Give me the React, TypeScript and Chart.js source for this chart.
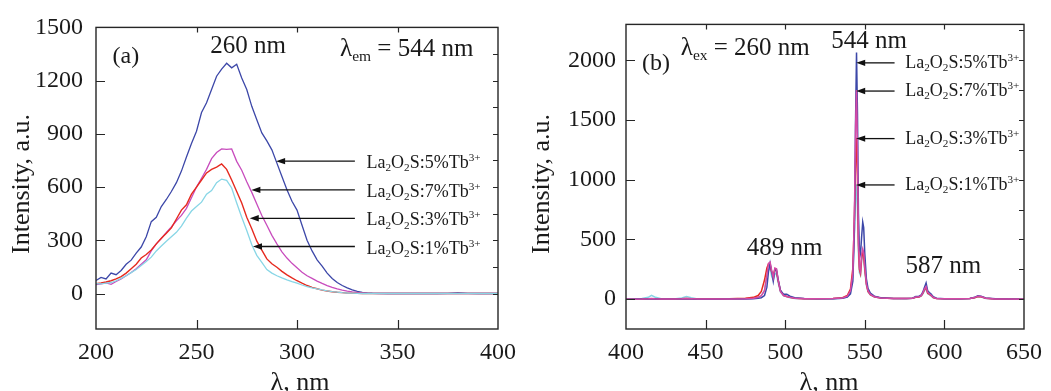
import React, { useEffect, useRef } from "react";
import { Chart, registerables } from "chart.js";

Chart.register(...registerables);

// ---------------- Panel (a): excitation spectra (λem = 544 nm) ----------------
const LAMBDA_A = [
  200, 202.5, 205, 207.5, 210, 212.5, 215, 217.5, 220, 222.5,
  225, 227.5, 230, 232.5, 235, 237.5, 240, 242.5, 245, 247.5,
  250, 252.5, 255, 257.5, 260, 262.5, 265, 267.5, 270, 272.5,
  275, 277.5, 280, 282.5, 285, 287.5, 290, 292.5, 295, 297.5,
  300, 302.5, 305, 307.5, 310, 312.5, 315, 317.5, 320, 322.5,
  325, 327.5, 330, 332.5, 335, 337.5, 340,
  345, 350, 355, 360, 365, 370, 375, 380, 385, 390, 395, 400,
];
const EXC_5 = [
  73, 91, 82, 115, 106, 130, 165, 188, 228, 262,
  320, 405, 430, 490, 530, 575, 625, 690, 770, 845,
  915, 1020, 1075, 1150, 1225, 1265, 1298, 1272, 1292, 1215,
  1150, 1055, 980, 905, 860, 810, 735, 660, 585, 520,
  470, 385, 300, 240, 190, 155, 115, 85, 62, 45,
  32, 20, 12, 7, 4, 2, 1,
  0, 0, 0, 0, 0, 0, 1, 5, 1, 0, 0, 0,
];
const EXC_7 = [
  50, 55, 60, 52, 68, 82, 100, 118, 140, 165,
  190, 240, 280, 310, 345, 375, 410, 440, 480, 540,
  600, 650, 700, 760, 795, 815, 812, 815, 745, 695,
  630, 570, 505, 440, 385, 328, 280, 235, 200, 170,
  145, 120, 100, 85, 70, 57, 45, 35, 26, 19,
  13, 9, 6, 4, 2, 1, 0,
  0, 0, 0, 0, 0, 0, 0, 0, 0, 0, 0, 0,
];
const EXC_3 = [
  56, 60, 65, 72, 82, 95, 115, 140, 165, 200,
  220, 245, 280, 312, 340, 370, 420, 470, 500, 560,
  600, 640, 680, 700, 712, 730, 700, 640, 575, 510,
  430, 365, 295, 245, 195, 168, 148, 125, 105, 88,
  72, 58, 45, 35, 27, 19, 14, 10, 7, 5,
  3, 2, 1, 0, 0, 0, 0,
  0, 0, 0, 0, 0, 0, 0, 0, 0, 0, 0, 0,
];
const EXC_1 = [
  56, 54, 58, 62, 72, 85, 100, 118, 135, 158,
  180, 205, 240, 268, 295, 320, 345, 380, 425, 465,
  490, 515, 560, 580, 625, 645, 638, 595, 510, 430,
  355, 275, 215, 175, 135, 115, 100, 88, 77, 67,
  58, 48, 39, 32, 26, 20, 15, 11, 8, 5,
  3, 2, 1, 0, 0, 0, 0,
  0, 0, 0, 0, 0, 0, 0, 0, 0, 0, 0, 0,
];
const TICKS_AX = [200, 250, 300, 350, 400];
const TICKS_AY = [0, 300, 600, 900, 1200, 1500];
const MINOR_AY = [0, 150, 300, 450, 600, 750, 900, 1050, 1200, 1350, 1500];

// ---------------- Panel (b): emission spectra (λex = 260 nm) ----------------
const LAMBDA_B = [
  400, 410, 414, 416, 418, 422, 430, 435, 438, 441,
  445, 455, 465, 475, 480, 483, 485, 487, 488.5, 489.5,
  490.5, 491.5, 492.5, 493.5, 494.5, 495.5, 497, 499, 501, 503,
  506, 512, 520, 530, 536, 539, 541, 542.5, 543.5, 544.2,
  544.8, 545.4, 546, 546.6, 547.3, 548, 548.7, 549.3, 550, 551,
  552, 553.5, 556, 560, 568, 576, 580, 582, 584, 585.5,
  586.5, 587.5, 588.5, 589.5, 590.5, 591.5, 593, 595, 600, 610,
  616, 619, 621, 623, 626, 632, 640, 650,
];
const EM_5 = [
  0, 1, 2, 3, 2, 1, 1, 1, 2, 1,
  0, 0, 1, 2, 4, 7, 12, 30, 100, 230,
  300, 230, 150, 240, 250, 170, 75, 40, 40, 25,
  12, 5, 3, 4, 8, 18, 45, 150, 600, 1500,
  2065, 1550, 720, 420, 380, 520, 645, 600, 380, 170,
  90, 50, 25, 12, 6, 5, 8, 22, 25, 35,
  60, 100, 136, 70, 55, 45, 20, 8, 4, 3,
  6, 15, 28, 25, 10, 3, 1, 0,
];
const EM_7 = [
  0, 2, 4, 6, 4, 2, 1, 3, 6, 4,
  1, 1, 2, 4, 8, 15, 28, 70, 200, 300,
  310, 240, 180, 260, 255, 165, 65, 30, 22, 15,
  8, 4, 3, 5, 10, 25, 70, 220, 720, 1450,
  1750, 1250, 520, 270, 230, 370, 420, 390, 270, 130,
  70, 40, 20, 10, 5, 5, 8, 18, 20, 30,
  55, 85, 105, 55, 45, 35, 15, 6, 3, 3,
  6, 14, 25, 22, 8, 2, 1, 0,
];
const EM_3 = [
  0, 1, 3, 4, 3, 1, 1, 3, 5, 3,
  1, 1, 3, 8, 15, 30, 65, 160, 260, 295,
  285, 225, 200, 250, 235, 160, 70, 32, 22, 15,
  8, 4, 3, 5, 12, 30, 85, 260, 700, 1150,
  1350, 1000, 450, 250, 215, 340, 395, 360, 250, 125,
  65, 38, 20, 10, 5, 5, 8, 16, 18, 28,
  50, 80, 95, 50, 42, 32, 14, 6, 3, 3,
  5, 12, 22, 20, 7, 2, 1, 0,
];
const EM_1 = [
  0, 5, 15, 32, 18, 4, 2, 10, 22, 12,
  2, 1, 2, 4, 8, 15, 30, 75, 190, 250,
  255, 190, 160, 215, 210, 140, 60, 28, 20, 12,
  6, 3, 2, 4, 8, 20, 60, 200, 550, 850,
  960, 740, 380, 220, 200, 320, 370, 340, 230, 115,
  60, 35, 18, 9, 5, 4, 7, 15, 17, 26,
  45, 70, 85, 45, 38, 28, 12, 5, 3, 2,
  5, 11, 20, 18, 6, 2, 1, 0,
];
const TICKS_BX = [400, 450, 500, 550, 600, 650];
const TICKS_BY = [0, 500, 1000, 1500, 2000];
const MINOR_BY = [0, 250, 500, 750, 1000, 1250, 1500, 1750, 2000, 2250];

// Series labels (Tb3+ concentration, %) in the order of the arrows
const SERIES_PCT = ["5", "7", "3", "1"];
// Where each label's arrow points, panel (a): [λ of tip, intensity level]
const ARROW_A_TIP = [289.6, 277.3, 276.5, 278.1];
const ARROW_A_LEVEL = [746, 584, 424, 265];
// Panel (b)
const ARROW_B_TIP = [544.6, 544.6, 544.6, 544.6];
const ARROW_B_LEVEL = [1978, 1742, 1344, 956];

const FONT = '"Liberation Serif", "Times New Roman", Times, serif';
const C_BLUE = "#3c47a8";
const C_MAGENTA = "#c84cbd";
const C_RED = "#e62a1f";
const C_CYAN = "#88d6e6";
const C_PINK = "#d44aa6";

type Part = { t: string; s?: "sub" | "sup" };

function drawRich(ctx: CanvasRenderingContext2D, parts: Part[], x: number, y: number, size: number) {
  let cx = x;
  for (const p of parts) {
    const fs = p.s ? size * 0.62 : size;
    ctx.font = `${fs}px ${FONT}`;
    const dy = p.s === "sub" ? size * 0.18 : p.s === "sup" ? -size * 0.38 : 0;
    ctx.fillText(p.t, cx, y + dy);
    cx += ctx.measureText(p.t).width;
  }
}

function labelParts(pct: string): Part[] {
  return [
    { t: "La" }, { t: "2", s: "sub" }, { t: "O" }, { t: "2", s: "sub" },
    { t: `S:${pct}%Tb` }, { t: "3+", s: "sup" },
  ];
}

type TextItem = { x: number; y: number; size: number; parts: Part[] };
type Decor = {
  xTicks: number[];
  yTicks: number[];
  yMinor: number[];
  yTitleX: number;
  yTitleY: number;
  xTitleX: number;
  xTitleY: number;
  texts: TextItem[];
  arrowTips: number[];
  arrowLevels: number[];
  arrowTail: number;
  labelX: number;
  labelDy: number;
  labelSize: number;
};

function makeDecor(d: Decor) {
  return {
    id: "decor",
    afterDraw(chart: any) {
      const { ctx, chartArea: a, scales } = chart;
      const xs = scales.x;
      const ys = scales.y;
      ctx.save();
      // frame
      ctx.strokeStyle = "#262626";
      ctx.lineWidth = 1.4;
      ctx.strokeRect(a.left, a.top, a.right - a.left, a.bottom - a.top);
      // inward ticks
      ctx.beginPath();
      ctx.lineWidth = 1.2;
      for (const v of d.xTicks) {
        const px = Math.round(xs.getPixelForValue(v)) + 0.5;
        if (px <= a.left + 2 || px >= a.right - 2) continue;
        ctx.moveTo(px, a.bottom);
        ctx.lineTo(px, a.bottom - 9);
        ctx.moveTo(px, a.top);
        ctx.lineTo(px, a.top + 5);
      }
      for (const v of d.yTicks) {
        const py = Math.round(ys.getPixelForValue(v)) + 0.5;
        if (py <= a.top + 2 || py >= a.bottom - 2) continue;
        ctx.moveTo(a.left, py);
        ctx.lineTo(a.left + 9, py);
      }
      for (const v of d.yMinor) {
        const py = Math.round(ys.getPixelForValue(v)) + 0.5;
        if (py <= a.top + 2 || py >= a.bottom - 2) continue;
        ctx.moveTo(a.right, py);
        ctx.lineTo(a.right - 5, py);
      }
      ctx.stroke();

      ctx.fillStyle = "#1a1a1a";
      ctx.textBaseline = "alphabetic";
      ctx.textAlign = "left";
      // axis titles
      ctx.save();
      ctx.translate(d.yTitleX, d.yTitleY);
      ctx.rotate(-Math.PI / 2);
      ctx.textAlign = "center";
      ctx.font = `26px ${FONT}`;
      ctx.fillText("Intensity, a.u.", 0, 0);
      ctx.restore();
      ctx.textAlign = "center";
      ctx.font = `26px ${FONT}`;
      ctx.fillText("λ, nm", d.xTitleX, d.xTitleY);
      ctx.textAlign = "left";

      // annotations
      for (const t of d.texts) {
        drawRich(ctx, t.parts, xs.getPixelForValue(t.x), ys.getPixelForValue(t.y), t.size);
      }
      // arrows + labels
      ctx.strokeStyle = "#111";
      ctx.lineWidth = 1.3;
      d.arrowTips.forEach((tip, i) => {
        const py = ys.getPixelForValue(d.arrowLevels[i]);
        const tx = xs.getPixelForValue(tip);
        const sx = xs.getPixelForValue(d.arrowTail);
        ctx.beginPath();
        ctx.moveTo(sx, py);
        ctx.lineTo(tx + 8, py);
        ctx.stroke();
        ctx.beginPath();
        ctx.moveTo(tx, py);
        ctx.lineTo(tx + 9, py - 3.2);
        ctx.lineTo(tx + 9, py + 3.2);
        ctx.closePath();
        ctx.fillStyle = "#111";
        ctx.fill();
        ctx.fillStyle = "#1a1a1a";
        drawRich(ctx, labelParts(SERIES_PCT[i]), xs.getPixelForValue(d.labelX), py + d.labelDy, d.labelSize);
      });
      ctx.restore();
    },
  };
}

type PanelCfg = {
  lambda: number[];
  series: { data: number[]; color: string; width: number }[];
  xMin: number; xMax: number; yMin: number; yMax: number;
  xTicks: number[]; yTicks: number[];
  yAxisWidth: number; topPad: number; rightPad: number;
  yTickPad: number;
  decor: Decor;
};

function buildChart(canvas: HTMLCanvasElement, p: PanelCfg) {
  const tickFont = { family: FONT, size: 24 };
  return new Chart(canvas, {
    type: "line",
    data: {
      datasets: p.series.map((s) => ({
        data: p.lambda.map((x, i) => ({ x, y: s.data[i] })),
        borderColor: s.color,
        borderWidth: s.width,
        pointRadius: 0,
        fill: false,
        tension: 0,
      })),
    },
    options: {
      animation: false,
      responsive: false,
      maintainAspectRatio: false,
      devicePixelRatio: 1,
      layout: { padding: { left: 0, top: p.topPad, right: p.rightPad, bottom: 0 } },
      plugins: { legend: { display: false }, tooltip: { enabled: false }, title: { display: false } },
      scales: {
        x: {
          type: "linear",
          min: p.xMin,
          max: p.xMax,
          afterBuildTicks: (s: any) => { s.ticks = p.xTicks.map((v) => ({ value: v })); },
          afterFit: (s: any) => { s.height = 62; },
          grid: { display: false, drawTicks: false },
          border: { display: false },
          ticks: { font: tickFont, color: "#1a1a1a", padding: 9, maxRotation: 0, autoSkip: false, callback: (v: any) => String(v) },
        },
        y: {
          type: "linear",
          min: p.yMin,
          max: p.yMax,
          afterBuildTicks: (s: any) => { s.ticks = p.yTicks.map((v) => ({ value: v })); },
          afterFit: (s: any) => { s.width = p.yAxisWidth; },
          grid: { display: false, drawTicks: false },
          border: { display: false },
          ticks: { font: tickFont, color: "#1a1a1a", padding: p.yTickPad, autoSkip: false, callback: (v: any) => String(v) },
        },
      },
    } as any,
    plugins: [makeDecor(p.decor)],
  });
}

const panelA: PanelCfg = {
  lambda: LAMBDA_A,
  series: [
    { data: EXC_1, color: C_CYAN, width: 1.3 },
    { data: EXC_3, color: C_RED, width: 1.4 },
    { data: EXC_7, color: C_MAGENTA, width: 1.3 },
    { data: EXC_5, color: C_BLUE, width: 1.3 },
  ],
  xMin: 200, xMax: 400, yMin: -200, yMax: 1500,
  xTicks: TICKS_AX, yTicks: TICKS_AY,
  yAxisWidth: 96, topPad: 25, rightPad: 22, yTickPad: 13,
  decor: {
    xTicks: TICKS_AX, yTicks: TICKS_AY, yMinor: MINOR_AY,
    yTitleX: 29, yTitleY: 184, xTitleX: 300, xTitleY: 390,
    texts: [
      { x: 208.2, y: 1300, size: 24, parts: [{ t: "(a)" }] },
      { x: 256.9, y: 1356, size: 25, parts: [{ t: "260 nm" }] },
      { x: 321.4, y: 1337, size: 25, parts: [{ t: "λ" }, { t: "em", s: "sub" }, { t: " = 544 nm" }] },
    ],
    arrowTips: ARROW_A_TIP, arrowLevels: ARROW_A_LEVEL, arrowTail: 328.8,
    labelX: 334.6, labelDy: 7, labelSize: 18,
  },
};

const panelB: PanelCfg = {
  lambda: LAMBDA_B,
  series: [
    { data: EM_7, color: C_PINK, width: 1.5 },
    { data: EM_5, color: C_BLUE, width: 1.5 },
    { data: EM_3, color: C_RED, width: 1.5 },
    { data: EM_1, color: C_CYAN, width: 1.5 },
  ],
  xMin: 400, xMax: 650, yMin: -250, yMax: 2300,
  xTicks: TICKS_BX, yTicks: TICKS_BY,
  yAxisWidth: 101, topPad: 23, rightPad: 23, yTickPad: 10,
  decor: {
    xTicks: TICKS_BX, yTicks: TICKS_BY, yMinor: MINOR_BY,
    yTitleX: 24, yTitleY: 184, xTitleX: 304, xTitleY: 390,
    texts: [
      { x: 410, y: 1917, size: 24, parts: [{ t: "(b)" }] },
      { x: 434.4, y: 2042, size: 25, parts: [{ t: "λ" }, { t: "ex", s: "sub" }, { t: " = 260 nm" }] },
      { x: 528.9, y: 2102, size: 25, parts: [{ t: "544 nm" }] },
      { x: 475.9, y: 367, size: 25, parts: [{ t: "489 nm" }] },
      { x: 575.6, y: 219, size: 25, parts: [{ t: "587 nm" }] },
    ],
    arrowTips: ARROW_B_TIP, arrowLevels: ARROW_B_LEVEL, arrowTail: 568.7,
    labelX: 575.4, labelDy: 5, labelSize: 18,
  },
};

function Panel({ cfg, width }: { cfg: PanelCfg; width: number }) {
  const ref = useRef<HTMLCanvasElement | null>(null);
  useEffect(() => {
    if (!ref.current) return;
    const chart = buildChart(ref.current, cfg);
    return () => chart.destroy();
  }, [cfg]);
  return <canvas ref={ref} width={width} height={391} style={{ display: "block", width, height: 391 }} />;
}

export default function App() {
  return (
    <div style={{ position: "fixed", left: 0, top: 0, width: 1051, height: 391, background: "#fff", display: "flex" }}>
      <Panel cfg={panelA} width={525} />
      <Panel cfg={panelB} width={526} />
    </div>
  );
}
